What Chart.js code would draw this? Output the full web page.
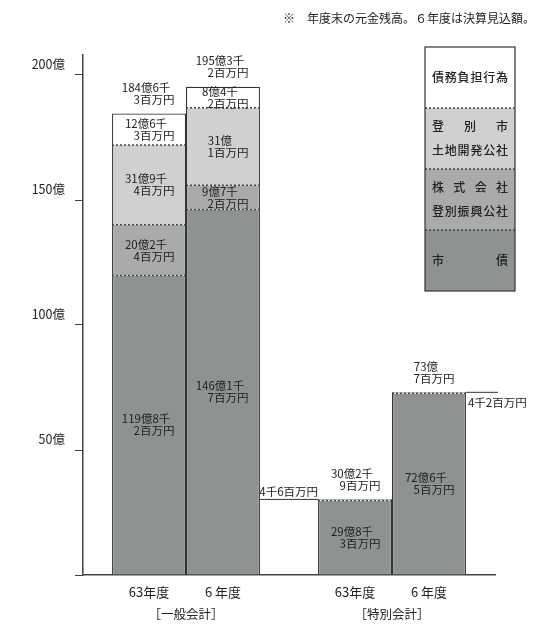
<!DOCTYPE html>
<html>
<head>
<meta charset="utf-8">
<script src="https://cdn.jsdelivr.net/npm/chart.js@4"></script>
<style>
  body { margin: 0; background: #fff; }
  #wrap { width: 539px; height: 626px; position: relative; }
</style>
</head>
<body>
<div id="wrap"><canvas id="barChart"></canvas></div>
<script>
// 億円 (2 decimals = 百万円)
const groups = ["［一般会計］", "［特別会計］"];
const years = ["63年度", "6 年度"];
const yTicks = [50, 100, 150, 200];

const shisai63 = [119.82, 29.83];
const shisai6 = [146.17, 72.65];
const shinko63 = [20.24, 0];
const shinko6 = [9.72, 0];
const tochi63 = [31.94, 0];
const tochi6 = [31.01, 0];
const saimu63 = [12.63, 0.46];
const saimu6 = [8.42, 0.42];

const legendLines = [
    ["債務負担行為"],
    ["登別市", "土地開発公社"],
    ["株式会社", "登別振興公社"],
    ["市債"]
];
const colors = ["#8e9390", "#a9abaa", "#d0d0d0", "#ffffff"];
const note = "※　年度末の元金残高。６年度は決算見込額。";

Chart.defaults.font.family = "'Noto Sans CJK JP', 'Noto Sans', sans-serif";
Chart.defaults.color = "#222";

function fmt(v) {
    const t = Math.round(v * 100);
    const oku = Math.floor(t / 100), sen = Math.floor((t % 100) / 10), hyaku = t % 10;
    let l1 = (oku ? oku + "億" : "") + (sen ? sen + "千" : "");
    let l2 = hyaku ? hyaku + "百万円" : "万円";
    return [l1, l2];
}

function ds(label, data, stack, i, top) {
    return {
        label: label, data: data, stack: stack,
        backgroundColor: colors[i],
        borderColor: "#333",
        borderWidth: { left: 1.2, right: 1.2, top: top ? 1.2 : 0, bottom: 0 },
        borderSkipped: false,
        barPercentage: 1,
        categoryPercentage: 0.718
    };
}

const datasets = [
    ds("市債", shisai63, "63", 0), ds("振興公社", shinko63, "63", 1),
    ds("土地開発公社", tochi63, "63", 2), ds("債務負担行為", saimu63, "63", 3, true),
    ds("市債", shisai6, "6", 0), ds("振興公社", shinko6, "6", 1),
    ds("土地開発公社", tochi6, "6", 2), ds("債務負担行為", saimu6, "6", 3, true)
];

function twoLines(ctx, lines, x, y) {
    ctx.textAlign = "center";
    ctx.textBaseline = "middle";
    if (lines[0]) {
        ctx.fillText(lines[0], x - 3, y - 6);
        ctx.fillText(lines[1], x + 5, y + 6);
    } else {
        ctx.fillText(lines[1], x, y);
    }
}

function spread(ctx, text, x0, x1, y) {
    const chars = Array.from(text);
    ctx.textBaseline = "middle";
    if (chars.length === 1) { ctx.textAlign = "center"; ctx.fillText(text, (x0 + x1) / 2, y); return; }
    ctx.textAlign = "left";
    const w = chars.map(c => ctx.measureText(c).width);
    const gap = (x1 - x0 - w.reduce((a, b) => a + b, 0)) / (chars.length - 1);
    let x = x0;
    chars.forEach((c, i) => { ctx.fillText(c, x, y); x += w[i] + gap; });
}

const decor = {
    id: "decor",
    afterDatasetsDraw(chart) {
        const ctx = chart.ctx;
        ctx.save();
        // dotted separators
        ctx.strokeStyle = "#444";
        ctx.lineWidth = 1.5;
        ctx.setLineDash([2, 2]);
        chart.data.datasets.forEach((d, di) => {
            if (di % 4 === 3) return;
            chart.getDatasetMeta(di).data.forEach((el, i) => {
                if (!d.data[i]) return;
                ctx.beginPath();
                ctx.moveTo(el.x - el.width / 2, el.y);
                ctx.lineTo(el.x + el.width / 2, el.y);
                ctx.stroke();
            });
        });
        ctx.setLineDash([]);

        // value labels
        ctx.fillStyle = "#222";
        ctx.font = "11.5px 'Noto Sans CJK JP'";
        chart.data.datasets.forEach((d, di) => {
            chart.getDatasetMeta(di).data.forEach((el, i) => {
                const v = d.data[i];
                if (v >= 3) {
                    twoLines(ctx, fmt(v), el.x, (el.y + el.base) / 2);
                }
            });
        });
        // totals and small leader labels
        [0, 4].forEach((s, k) => {
            const metaTop = chart.getDatasetMeta(s + 3);
            metaTop.data.forEach((el, i) => {
                let total = 0;
                for (let j = 0; j < 4; j++) total += chart.data.datasets[s + j].data[i];
                twoLines(ctx, fmt(total), el.x, el.y - 20);
                const small = chart.data.datasets[s + 3].data[i];
                if (small < 3) {
                    const t = fmt(small).join("");
                    ctx.strokeStyle = "#333";
                    ctx.lineWidth = 1;
                    ctx.beginPath();
                    if (k === 0) {
                        const x0 = el.x - el.width / 2;
                        ctx.moveTo(x0, el.base - 1);
                        ctx.lineTo(x0 - 58, el.base - 1);
                        ctx.stroke();
                        ctx.textAlign = "right";
                        ctx.textBaseline = "bottom";
                        ctx.fillText(t, x0, el.base - 3);
                    } else {
                        const x0 = el.x + el.width / 2;
                        ctx.moveTo(x0, el.y);
                        ctx.lineTo(x0 + 32, el.y);
                        ctx.stroke();
                        ctx.textAlign = "left";
                        ctx.textBaseline = "top";
                        ctx.fillText(t, x0 + 2, el.y + 5);
                    }
                }
            });
        });

        // year labels under each bar
        ctx.font = "13px 'Noto Sans CJK JP'";
        ctx.textAlign = "center";
        ctx.textBaseline = "middle";
        [0, 4].forEach((s, k) => {
            chart.getDatasetMeta(s).data.forEach(el => {
                ctx.fillText(years[k], el.x, chart.chartArea.bottom + 17);
            });
        });

        // note
        ctx.font = "12px 'Noto Sans CJK JP'";
        ctx.textAlign = "right";
        ctx.fillText(note, 535, 18);

        // legend box
        const lx = 425, ly = 47, lw = 90, lh = 61;
        for (let i = 0; i < 4; i++) {
            const y0 = ly + i * lh;
            ctx.fillStyle = colors[3 - i];
            ctx.fillRect(lx, y0, lw, lh);
            ctx.fillStyle = "#222";
            ctx.font = "500 12px 'Noto Sans CJK JP'";
            const ls = legendLines[i];
            ls.forEach((t, j) => {
                spread(ctx, t, lx + 7, lx + lw - 7, y0 + lh / 2 + (j - (ls.length - 1) / 2) * 24);
            });
            if (i > 0) {
                ctx.strokeStyle = "#444";
                ctx.lineWidth = 1.5;
                ctx.setLineDash([2, 2]);
                ctx.beginPath();
                ctx.moveTo(lx, y0);
                ctx.lineTo(lx + lw, y0);
                ctx.stroke();
                ctx.setLineDash([]);
            }
        }
        ctx.strokeStyle = "#333";
        ctx.lineWidth = 1.2;
        ctx.strokeRect(lx, ly, lw, lh * 4);
        ctx.restore();
    }
};

new Chart(document.getElementById("barChart"), {
    type: "bar",
    data: { labels: groups, datasets: datasets },
    plugins: [decor],
    options: {
        responsive: true,
        maintainAspectRatio: false,
        animation: false,
        layout: { padding: { top: 55, right: 44, left: 0, bottom: 0 } },
        plugins: { legend: { display: false }, tooltip: { enabled: false } },
        scales: {
            x: {
                stacked: true,
                grid: { display: false },
                border: { display: true, color: "#444", width: 1.5 },
                ticks: { font: { size: 12.5 }, color: "#222", padding: 24 },
                afterFit(scale) { scale.height = 51; }
            },
            y: {
                stacked: true,
                min: 0,
                max: 208,
                grid: { drawOnChartArea: false, tickLength: 8, color: "#444" },
                border: { display: true, color: "#444", width: 1.5 },
                afterBuildTicks(scale) {
                    scale.ticks = [{ value: 0 }].concat(yTicks.map(v => ({ value: v })));
                },
                ticks: {
                    font: { size: 12.5 },
                    color: "#222",
                    labelOffset: -11,
                    padding: 10,
                    callback: v => v ? v + "億" : ""
                },
                afterFit(scale) { scale.width = 83; }
            }
        }
    }
});
</script>
</body>
</html>
